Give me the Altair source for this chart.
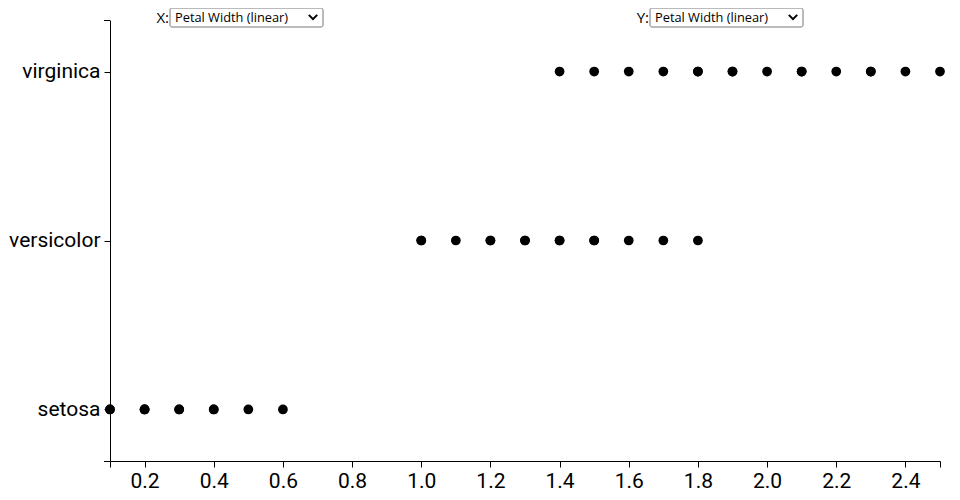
import altair as alt
import pandas as pd

# Petal widths per species (repeats = overplotted dots)
setosa = [0.1, 0.1, 0.2, 0.2, 0.2, 0.3, 0.3, 0.4, 0.4, 0.5, 0.6]
versicolor = [1.0, 1.0, 1.1, 1.2, 1.2, 1.3, 1.3, 1.4, 1.4, 1.5, 1.5, 1.6, 1.7, 1.8]
virginica = [1.4, 1.5, 1.6, 1.7, 1.8, 1.8, 1.9, 1.9, 2.0, 2.1, 2.1, 2.2, 2.3, 2.3, 2.4, 2.5]
species_order = ["virginica", "versicolor", "setosa"]
x_ticks = [0.1, 0.2, 0.4, 0.6, 0.8, 1.0, 1.2, 1.4, 1.6, 1.8, 2.0, 2.2, 2.4, 2.5]
dropdown_x_label = "X:"
dropdown_y_label = "Y:"
dropdown_text = "Petal Width (linear)"

rows = ([{"species": "setosa", "petalWidth": v} for v in setosa]
        + [{"species": "versicolor", "petalWidth": v} for v in versicolor]
        + [{"species": "virginica", "petalWidth": v} for v in virginica])
df = pd.DataFrame(rows)

W, H = 830, 441
FONT = "Roboto"

points = alt.Chart(df).mark_circle(size=95, color="black", opacity=1).encode(
    x=alt.X("petalWidth:Q",
            scale=alt.Scale(domain=[0.1, 2.5], nice=False, zero=False),
            axis=alt.Axis(values=x_ticks, title=None, grid=False,
                          labelExpr="datum.value < 0.15 || datum.value > 2.45 ? '' : format(datum.value, '.1f')",
                          labelFontSize=21, labelFont=FONT, labelColor="black",
                          tickColor="black", domainColor="black", tickSize=6,
                          labelPadding=3)),
    y=alt.Y("species:N", sort=species_order,
            scale=alt.Scale(type="point", padding=0.305),
            axis=alt.Axis(title=None, grid=False, labelFontSize=21, labelFont=FONT,
                          labelColor="black", tickColor="black", domainColor="black",
                          tickSize=6, labelPadding=4)),
)

one = alt.Data(values=[{"a": 1}])

top_tick = alt.Chart(one).mark_rule(color="black", strokeWidth=1).encode(
    x=alt.value(-6), x2=alt.value(0), y=alt.value(0.5))
bottom_tick = alt.Chart(one).mark_rule(color="black", strokeWidth=1).encode(
    x=alt.value(-6), x2=alt.value(0), y=alt.value(H + 0.5))

def dropdown(x0, label):
    box = alt.Chart(one).mark_rect(fill="white", stroke="#767676", strokeWidth=1,
                                   cornerRadius=2).encode(
        x=alt.value(x0), x2=alt.value(x0 + 153), y=alt.value(-12), y2=alt.value(7))
    lab = alt.Chart(one).mark_text(align="right", baseline="middle", fontSize=15,
                                   font="Open Sans", color="black").encode(
        x=alt.value(x0 - 1), y=alt.value(-2.5), text=alt.value(label))
    txt = alt.Chart(one).mark_text(align="left", baseline="middle", fontSize=12.8,
                                   font="Open Sans", color="black").encode(
        x=alt.value(x0 + 5), y=alt.value(-2.5), text=alt.value(dropdown_text))
    chev = alt.Chart(one).mark_point(shape="M-1,-0.5L0,0.5L1,-0.5", filled=False,
                                     color="black", strokeWidth=2, size=70,
                                     opacity=1).encode(
        x=alt.value(x0 + 143), y=alt.value(-3))
    return [box, lab, txt, chev]

chart = alt.layer(
    points, top_tick, bottom_tick,
    *dropdown(60, dropdown_x_label), *dropdown(540, dropdown_y_label)
).properties(
    width=W, height=H,
    autosize=alt.AutoSizeParams(type="none"),
    padding={"left": 102, "top": 12, "right": 12, "bottom": 31},
).configure_view(stroke=None).configure_axis(domainWidth=1, tickWidth=1)

chart.save("out.html", embed_options={"renderer": "svg", "actions": False})
